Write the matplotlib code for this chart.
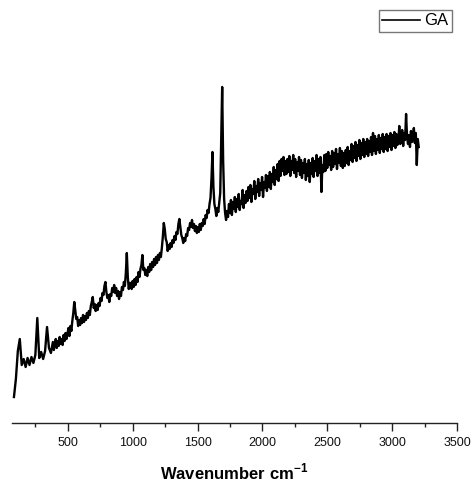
import matplotlib
matplotlib.use("Agg")
import matplotlib.pyplot as plt
from matplotlib.ticker import MultipleLocator

plt.rcParams['font.family'] = ['Liberation Sans', 'DejaVu Sans']
plt.rcParams['mathtext.fontset'] = 'custom'
plt.rcParams['mathtext.rm'] = 'Liberation Sans'
plt.rcParams['mathtext.bf'] = 'Liberation Sans:bold'

# Raman shift (cm-1)
wavenumber = [
    85, 100, 115, 130, 145, 160, 175, 190, 205, 220,
    235, 250, 265, 280, 295, 310, 325, 340, 355, 370,
    385, 392.5, 400, 407.5, 415, 422.5, 430, 437.5, 445, 452.5,
    460, 467.5, 475, 482.5, 490, 497.5, 505, 512.5, 520, 527.5,
    535, 542.5, 550, 557.5, 565, 572.5, 580, 587.5, 595, 602.5,
    610, 617.5, 625, 632.5, 640, 647.5, 655, 662.5, 670, 677.5,
    685, 692.5, 700, 707.5, 715, 722.5, 730, 737.5, 745, 752.5,
    760, 767.5, 775, 782.5, 790, 797.5, 805, 812.5, 820, 827.5,
    835, 842.5, 850, 857.5, 865, 872.5, 880, 887.5, 895, 902.5,
    910, 917.5, 925, 932.5, 940, 947.5, 955, 962.5, 970, 977.5,
    985, 992.5, 1000, 1007.5, 1015, 1022.5, 1030, 1037.5, 1045, 1052.5,
    1060, 1067.5, 1075, 1082.5, 1090, 1097.5, 1105, 1112.5, 1120, 1127.5,
    1135, 1142.5, 1150, 1157.5, 1165, 1172.5, 1180, 1187.5, 1195, 1202.5,
    1210, 1217.5, 1225, 1232.5, 1240, 1247.5, 1255, 1262.5, 1270, 1277.5,
    1285, 1292.5, 1300, 1307.5, 1315, 1322.5, 1330, 1337.5, 1345, 1352.5,
    1360, 1367.5, 1375, 1382.5, 1390, 1397.5, 1405, 1412.5, 1420, 1427.5,
    1435, 1442.5, 1450, 1457.5, 1465, 1472.5, 1480, 1487.5, 1495, 1502.5,
    1510, 1517.5, 1525, 1532.5, 1540, 1547.5, 1555, 1562.5, 1570, 1577.5,
    1585, 1592.5, 1600, 1607.5, 1615, 1622.5, 1630, 1637.5, 1645, 1652.5,
    1660, 1667.5, 1675, 1682.5, 1690, 1697.5, 1705, 1712.5, 1720, 1727.5,
    1735, 1742.5, 1750, 1757.5, 1765, 1772.5, 1780, 1787.5, 1795, 1802.5,
    1810, 1817.5, 1825, 1832.5, 1840, 1847.5, 1855, 1862.5, 1870, 1877.5,
    1885, 1892.5, 1900, 1907.5, 1915, 1922.5, 1930, 1937.5, 1945, 1952.5,
    1960, 1967.5, 1975, 1982.5, 1990, 1997.5, 2005, 2012.5, 2020, 2027.5,
    2035, 2042.5, 2050, 2057.5, 2065, 2072.5, 2080, 2087.5, 2095, 2102.5,
    2110, 2117.5, 2125, 2132.5, 2140, 2147.5, 2155, 2162.5, 2170, 2177.5,
    2185, 2192.5, 2200, 2207.5, 2215, 2222.5, 2230, 2237.5, 2245, 2252.5,
    2260, 2267.5, 2275, 2282.5, 2290, 2297.5, 2305, 2312.5, 2320, 2327.5,
    2335, 2342.5, 2350, 2357.5, 2365, 2372.5, 2380, 2387.5, 2395, 2402.5,
    2410, 2417.5, 2425, 2432.5, 2440, 2447.5, 2455, 2462.5, 2470, 2477.5,
    2485, 2492.5, 2500, 2507.5, 2515, 2522.5, 2530, 2537.5, 2545, 2552.5,
    2560, 2567.5, 2575, 2582.5, 2590, 2597.5, 2605, 2612.5, 2620, 2627.5,
    2635, 2642.5, 2650, 2657.5, 2665, 2672.5, 2680, 2687.5, 2695, 2702.5,
    2710, 2717.5, 2725, 2732.5, 2740, 2747.5, 2755, 2762.5, 2770, 2777.5,
    2785, 2792.5, 2800, 2807.5, 2815, 2822.5, 2830, 2837.5, 2845, 2852.5,
    2860, 2867.5, 2875, 2882.5, 2890, 2897.5, 2905, 2912.5, 2920, 2927.5,
    2935, 2942.5, 2950, 2957.5, 2965, 2972.5, 2980, 2987.5, 2995, 3002.5,
    3010, 3017.5, 3025, 3032.5, 3040, 3047.5, 3055, 3062.5, 3070, 3077.5,
    3085, 3092.5, 3100, 3107.5, 3115, 3122.5, 3130, 3137.5, 3145, 3152.5,
    3160, 3167.5, 3175, 3182.5, 3190, 3197.5, 3205,
]

# Intensity (a.u.)
intensity = [
    26, 44, 72, 84, 58, 64, 56, 65, 58, 66,
    60, 68, 105, 65, 71, 64, 72, 96, 75, 70,
    81, 73, 79, 84, 75, 82, 77, 86, 79, 84,
    78, 88, 82, 90, 84, 89, 95, 87, 97, 92,
    102, 110, 121, 113, 104, 106, 97, 103, 98, 105,
    100, 108, 101, 107, 103, 110, 105, 112, 108, 117,
    121, 126, 115, 119, 112, 118, 113, 120, 117, 125,
    122, 130, 128, 137, 141, 131, 125, 128, 121, 129,
    127, 135, 131, 138, 130, 135, 127, 132, 124, 131,
    127, 136, 133, 141, 137, 150, 170, 146, 134, 140,
    140, 134, 142, 136, 144, 138, 146, 141, 151, 146,
    154, 158, 168, 153, 155, 148, 153, 147, 156, 151,
    159, 153, 161, 156, 164, 158, 166, 160, 168, 163,
    170, 166, 175, 186, 200, 194, 184, 181, 172, 178,
    174, 180, 176, 183, 180, 187, 183, 191, 189, 199,
    204, 196, 188, 185, 180, 185, 182, 189, 187, 195,
    193, 200, 196, 203, 195, 199, 192, 197, 190, 196,
    191, 199, 193, 200, 197, 204, 199, 208, 205, 213,
    210, 219, 225, 244, 271, 236, 219, 214, 207, 215,
    211, 221, 230, 282, 336, 262, 224, 210, 203, 212,
    206, 219, 210, 223, 208, 221, 214, 226, 211, 224,
    216, 229, 213, 222, 219, 233, 215, 228, 220, 232,
    222, 236, 225, 238, 221, 234, 229, 242, 224, 237,
    231, 244, 227, 240, 233, 246, 226, 241, 235, 248,
    232, 247, 236, 251, 234, 249, 241, 256, 238, 253,
    244, 259, 242, 262, 247, 264, 252, 266, 248, 262,
    249, 264, 251, 267, 247, 262, 253, 268, 250, 264,
    246, 261, 252, 266, 248, 263, 245, 260, 250, 264,
    243, 259, 247, 263, 241, 260, 249, 265, 246, 262,
    252, 268, 247, 264, 250, 266, 231, 258, 251, 268,
    252, 269, 255, 271, 258, 267, 253, 272, 256, 270,
    259, 274, 254, 269, 260, 275, 257, 272, 255, 270,
    257, 273, 260, 276, 258, 272, 263, 279, 261, 277,
    265, 281, 262, 278, 267, 283, 264, 280, 268, 284,
    266, 281, 269, 284, 267, 282, 271, 286, 268, 290,
    272, 287, 269, 284, 273, 288, 270, 285, 274, 289,
    271, 286, 274, 289, 272, 287, 276, 290, 273, 288,
    277, 291, 275, 289, 278, 281, 297, 279, 284, 293,
    277, 290, 283, 309, 286, 279, 288, 276, 292, 281,
    287, 295, 280, 290, 258, 284, 276,
]

series_label = "GA"
x_ticks = [500, 1000, 1500, 2000, 2500, 3000, 3500]

W, H = 475, 483
fig = plt.figure(figsize=(W / 100, H / 100), dpi=100)
ax = fig.add_axes([12 / W, 60 / H, 445 / W, 423 / H])

ax.plot(wavenumber, intensity, color='black', lw=1.7, label=series_label,
        solid_joinstyle='round')

ax.set_xlim(70, 3500)
ax.set_ylim(0, 423)
ax.set_xticks(x_ticks)
ax.xaxis.set_minor_locator(MultipleLocator(250))
ax.set_yticks([])

for s in ['left', 'right', 'top']:
    ax.spines[s].set_visible(False)
ax.spines['bottom'].set_linewidth(1.0)
ax.spines['bottom'].set_color('#222222')

ax.tick_params(axis='x', which='major', direction='out', length=6, width=1,
               labelsize=9, pad=4, colors='#222222')
ax.tick_params(axis='x', which='minor', direction='out', length=3, width=1,
               colors='#222222')
for t in ax.get_xticklabels():
    t.set_color('#111111')

ax.set_xlabel(r'Wavenumber cm$^{\mathbf{-1}}$', fontsize=12, fontweight='bold',
              labelpad=9)

leg = ax.legend(loc='upper right', bbox_to_anchor=(452 / W, 1 - 10 / H),
                bbox_transform=fig.transFigure, borderaxespad=0,
                fontsize=12, handlelength=2.3, handletextpad=0.25,
                borderpad=0.2, fancybox=False, framealpha=1,
                edgecolor='#777777')
leg.get_frame().set_linewidth(1.0)
for line in leg.get_lines():
    line.set_linewidth(1.2)

fig.savefig('out.png', dpi=100)
